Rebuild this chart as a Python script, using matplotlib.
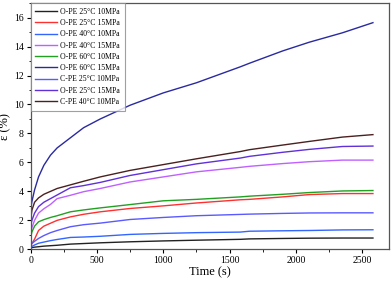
import numpy as np
import matplotlib
matplotlib.use("Agg")
import matplotlib.pyplot as plt
from matplotlib.ticker import MultipleLocator

plt.rcParams['font.family'] = ['Liberation Serif', 'DejaVu Serif']
plt.rcParams['mathtext.fontset'] = 'stix'

# time grid (s)
t = [0, 10, 30, 60, 100, 150, 200, 300, 400, 525, 750, 1000, 1250, 1580, 1650, 1900, 2100, 2350, 2580]

labels = ['O-PE 25°C 10MPa', 'O-PE 25°C 15MPa', 'O-PE 40°C 10MPa', 'O-PE 40°C 15MPa',
          'O-PE 60°C 10MPa', 'O-PE 60°C 15MPa', 'C-PE 25°C 10MPa', 'O-PE 25°C 15MPa',
          'C-PE 40°C 10MPa']

ope25_10 = [0.1, 0.12, 0.15, 0.18, 0.22, 0.25, 0.28, 0.36, 0.4, 0.45, 0.52, 0.58, 0.63, 0.69, 0.72, 0.75, 0.77, 0.78, 0.78]
ope25_15 = [0.2, 0.4, 0.7, 1.3, 1.6, 1.8, 2.0, 2.24, 2.42, 2.59, 2.82, 3.0, 3.2, 3.42, 3.45, 3.62, 3.78, 3.85, 3.85]
ope40_10 = [0.1, 0.2, 0.3, 0.42, 0.5, 0.6, 0.68, 0.82, 0.85, 0.9, 1.03, 1.1, 1.15, 1.19, 1.25, 1.28, 1.3, 1.34, 1.35]
ope40_15 = [1.2, 1.5, 2.0, 2.5, 2.8, 3.1, 3.5, 3.73, 3.98, 4.2, 4.65, 5.0, 5.35, 5.66, 5.73, 5.92, 6.05, 6.16, 6.16]
ope60_10 = [0.8, 1.2, 1.6, 1.9, 2.05, 2.2, 2.32, 2.59, 2.72, 2.86, 3.09, 3.35, 3.45, 3.62, 3.67, 3.8, 3.92, 4.03, 4.06]
ope60_15 = [2.7, 3.3, 4.1, 5.0, 5.8, 6.5, 7.0, 7.7, 8.4, 9.0, 9.95, 10.8, 11.5, 12.6, 12.85, 13.7, 14.3, 14.95, 15.65]
cpe25_10 = [0.3, 0.4, 0.55, 0.75, 0.95, 1.15, 1.3, 1.56, 1.7, 1.81, 2.06, 2.2, 2.32, 2.41, 2.43, 2.48, 2.51, 2.52, 2.52]
ope25_15b = [1.6, 2.0, 2.5, 2.95, 3.25, 3.5, 3.75, 4.25, 4.4, 4.62, 5.1, 5.5, 5.9, 6.3, 6.42, 6.7, 6.9, 7.1, 7.13]
cpe40_10 = [2.0, 2.7, 3.25, 3.55, 3.8, 4.0, 4.2, 4.45, 4.7, 5.0, 5.45, 5.85, 6.25, 6.75, 6.88, 7.2, 7.45, 7.75, 7.92]

series = [ope25_10, ope25_15, ope40_10, ope40_15, ope60_10, ope60_15, cpe25_10, ope25_15b, cpe40_10]
colors = ['#222222', '#ff3030', '#3366ff', '#c060ff', '#22a022', '#2a2aa0', '#5a5aff', '#6030d8', '#4a2020']

fig = plt.figure(figsize=(3.92, 2.83), dpi=100)
ax = fig.add_axes([0.078, 0.119, 0.914, 0.870])

for y, c, lab in zip(series, colors, labels):
    ax.plot(t, y, color=c, lw=1.0, label=lab)

ax.set_xlim(0, 2700)
ax.set_ylim(0, 17)
ax.xaxis.set_major_locator(MultipleLocator(500))
ax.xaxis.set_minor_locator(MultipleLocator(250))
ax.yaxis.set_major_locator(MultipleLocator(2))
ax.yaxis.set_minor_locator(MultipleLocator(1))
ax.tick_params(which='major', direction='out', length=3, width=0.8, labelsize=7, pad=2)
ax.tick_params(which='minor', direction='out', length=1.8, width=0.6)
for s in ax.spines.values():
    s.set_color('#555555')
    s.set_linewidth(0.9)

ax.set_xlabel('Time (s)', fontsize=9, labelpad=1)
ax.set_ylabel('ε (%)', fontsize=9, labelpad=2)

leg = ax.legend(loc='upper left', fontsize=5.6, frameon=True, fancybox=False,
                borderaxespad=0, handlelength=2.8, handletextpad=0.4,
                labelspacing=0.42, borderpad=0.6)
leg.get_frame().set_edgecolor('#888888')
leg.get_frame().set_linewidth(0.8)

fig.savefig('out.png', dpi=100)
